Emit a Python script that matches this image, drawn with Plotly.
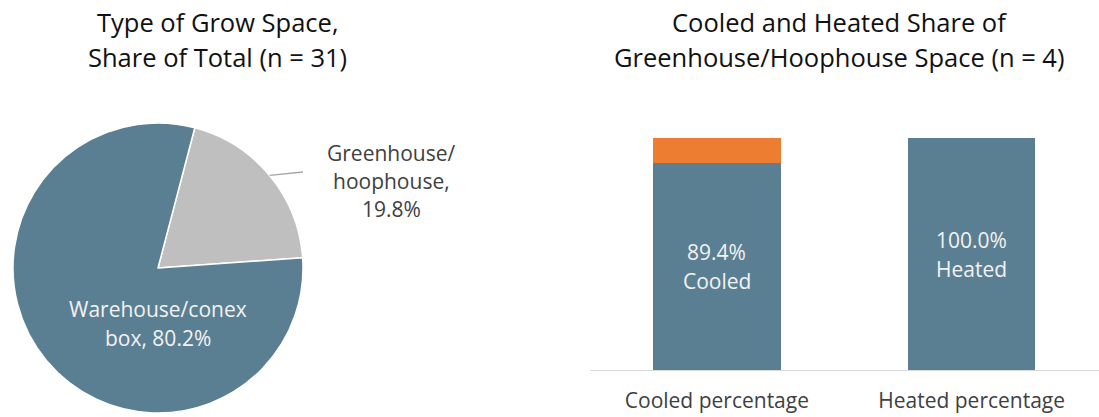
import math
import plotly.graph_objects as go

# Grow space mix (share of total grow space, %)
space_types = ["Greenhouse/|hoophouse", "Warehouse/conex|box"]
space_share = [19.8, 80.2]

# Conditioned share of greenhouse/hoophouse space (%)
bar_categories = ["Cooled percentage", "Heated percentage"]
conditioned_share = [89.4, 100.0]
conditioned_words = ["Cooled", "Heated"]
remainder_share = [round(100 - v, 1) for v in conditioned_share]

W, H = 1099, 417
BLUE = "#5B7F92"
GRAY = "#BFBFBF"
ORANGE = "#ED7D31"
FONT = "Open Sans"
TEXT = "#111111"
LABEL = "#404040"
INNER = "#F2F2F2"
TITLE_SIZE = 25.5
LABEL_SIZE = 21


def px(x):
    return x / W


def py(y):
    return (H - y) / H


def text_lines(lines, x, y, spacing, size, color, xref="paper", yref="paper"):
    """Stack several lines of text around (x, y) with a fixed pixel spacing."""
    n = len(lines)
    out = []
    for i, line in enumerate(lines):
        out.append(dict(x=x, y=y, xref=xref, yref=yref, text=line,
                        yshift=((n - 1) / 2 - i) * spacing,
                        showarrow=False, xanchor="center", yanchor="middle",
                        font=dict(family=FONT, size=size, color=color)))
    return out


# Pie geometry in pixels
PIE_CX, PIE_CY, PIE_R = 158, 268, 145
PIE_ROT = 14.7

fig = go.Figure()

fig.add_trace(go.Pie(
    labels=[s.replace("|", " ") for s in space_types],
    values=space_share,
    sort=False,
    direction="clockwise",
    rotation=PIE_ROT,
    marker=dict(colors=[GRAY, BLUE], line=dict(color="white", width=1.5)),
    textinfo="none",
    hoverinfo="label+percent",
    showlegend=False,
    domain=dict(x=[px(PIE_CX - PIE_R), px(PIE_CX + PIE_R)],
                y=[py(PIE_CY + PIE_R), py(PIE_CY - PIE_R)]),
))

fig.add_trace(go.Bar(
    x=bar_categories,
    y=conditioned_share,
    width=0.5,
    marker=dict(color=BLUE, line=dict(width=0)),
    showlegend=False,
))
fig.add_trace(go.Bar(
    x=bar_categories,
    y=remainder_share,
    width=0.5,
    marker=dict(color=ORANGE, line=dict(width=0)),
    showlegend=False,
))

annotations = []
annotations += text_lines(["Type of Grow Space,", "Share of Total (n = 31)"],
                          px(217), py(39.5), 35, TITLE_SIZE, TEXT)
annotations += text_lines(["Cooled and Heated Share of",
                           "Greenhouse/Hoophouse Space (n = 4)"],
                          px(839), py(39.5), 35, TITLE_SIZE, TEXT)

wh_lines = space_types[1].split("|")
annotations += text_lines([wh_lines[0], f"{wh_lines[1]}, {space_share[1]:.1f}%"],
                          px(158), py(323), 29, LABEL_SIZE, INNER)
gh_lines = space_types[0].split("|")
annotations += text_lines([gh_lines[0], f"{gh_lines[1]},", f"{space_share[0]:.1f}%"],
                          px(391), py(181), 28, LABEL_SIZE, LABEL)

# Value labels centred in each blue bar segment
for cat, v, w in zip(bar_categories, conditioned_share, conditioned_words):
    annotations += text_lines([f"{v:.1f}%", w], cat, v / 2, 29, LABEL_SIZE, INNER,
                              xref="x", yref="y")

# Leader line from the middle of the greenhouse slice towards its label
mid_deg = PIE_ROT + space_share[0] / sum(space_share) * 360 / 2
lx0 = PIE_CX + PIE_R * math.sin(math.radians(mid_deg))
ly0 = PIE_CY - PIE_R * math.cos(math.radians(mid_deg))
shapes = [dict(type="line", xref="paper", yref="paper",
               x0=px(lx0), y0=py(ly0), x1=px(303), y1=py(172),
               line=dict(color="#A6A6A6", width=1.3))]

fig.update_layout(
    width=W, height=H,
    autosize=False,
    margin=dict(l=0, r=0, t=0, b=0),
    paper_bgcolor="white",
    plot_bgcolor="white",
    barmode="stack",
    font=dict(family=FONT, color=TEXT),
    xaxis=dict(domain=[px(589.5), 1.0], showline=True, linecolor="#D9D9D9",
               linewidth=1, ticks="", showgrid=False, zeroline=False,
               tickfont=dict(family=FONT, size=LABEL_SIZE, color=LABEL),
               ticklabelstandoff=12, fixedrange=True),
    yaxis=dict(domain=[py(370), py(138)], range=[0, 100], visible=False,
               showgrid=False, zeroline=False, fixedrange=True),
    annotations=annotations,
    shapes=shapes,
)

fig.write_html("out.html")
